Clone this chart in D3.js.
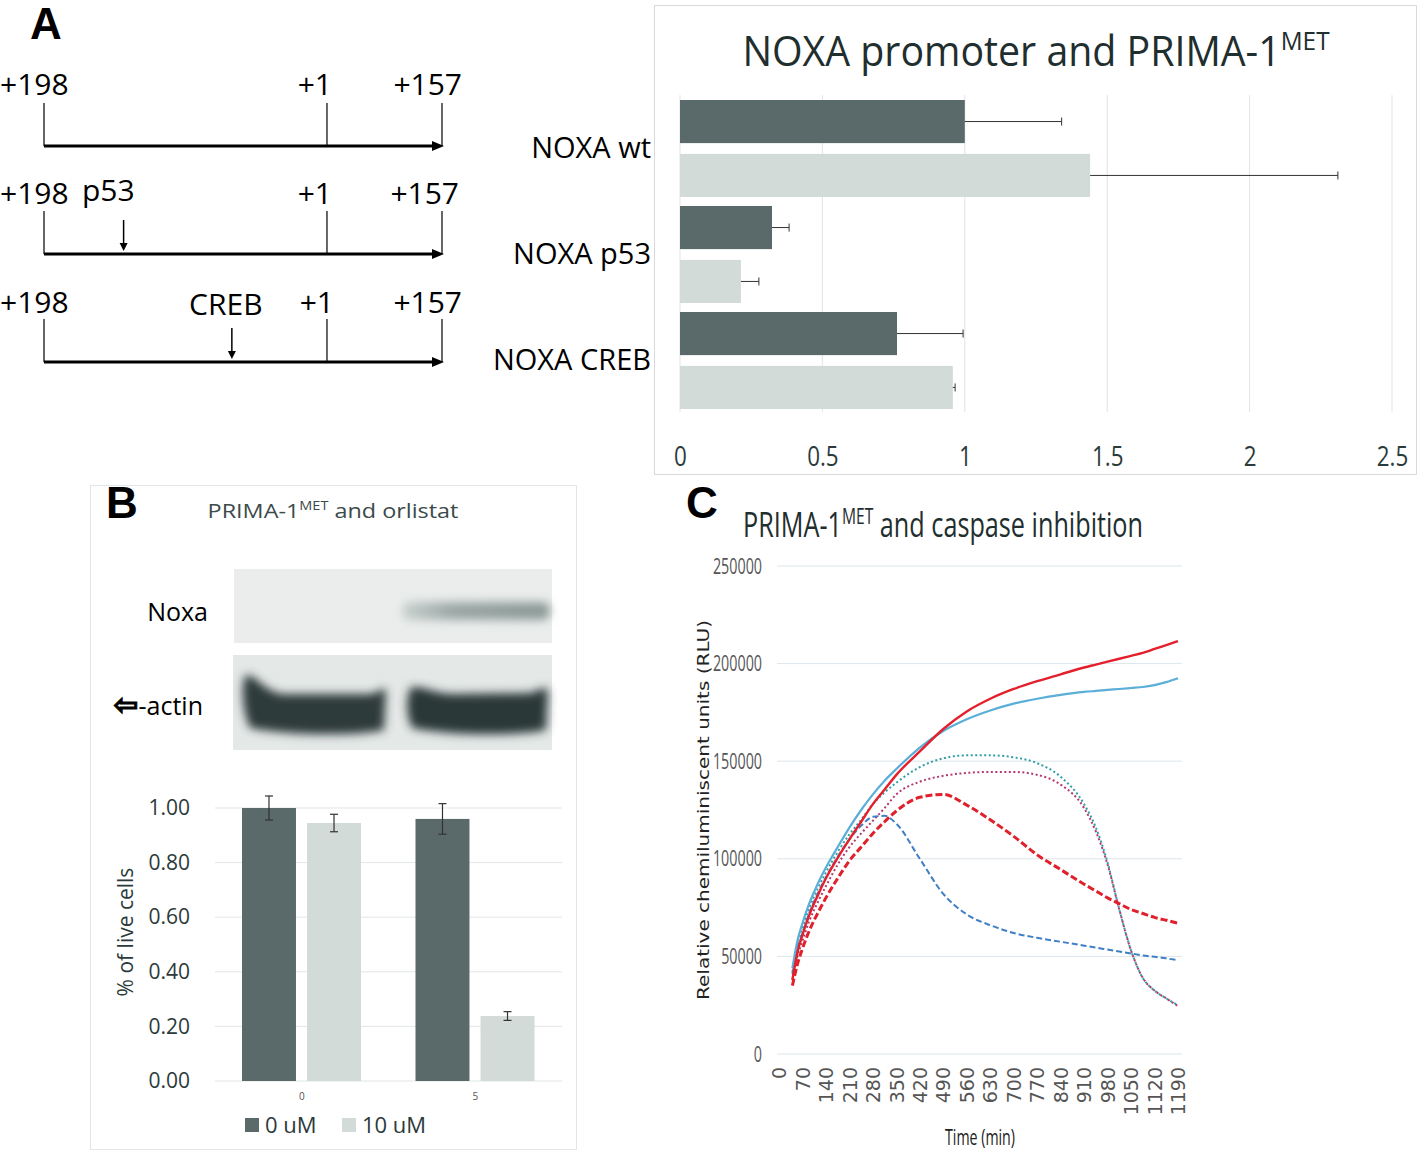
<!DOCTYPE html>
<html>
<head>
<meta charset="utf-8">
<script src="https://cdn.jsdelivr.net/npm/d3@7"></script>
<style>
  body { margin: 0; background: #fff; }
  svg { display: block; }
</style>
</head>
<body>
<script>
// ---- data ----
// panel A, promoter constructs (relative positions along the schematic)
var constructs = ["wt", "p53", "CREB"];
var constructSite = [null, 0.2, 0.472];   // mutated site position
var tssPos = 0.711;                         // +1 position

// panel A, luciferase bars
var noxaCats = ["NOXA wt", "NOXA p53", "NOXA CREB"];
var noxaCtrl = [1.0, 0.323, 0.762];
var noxaCtrlErr = [0.34, 0.06, 0.232];
var noxaPrima = [1.44, 0.214, 0.958];
var noxaPrimaErr = [0.87, 0.063, 0.008];
var noxaTicks = [0, 0.5, 1, 1.5, 2, 2.5];

// panel B, viability bars
var orlCats = ["0", "5"];
var orl0uM = [1.00, 0.96];
var orl0uMErr = [0.044, 0.056];
var orl10uM = [0.945, 0.238];
var orl10uMErr = [0.032, 0.016];
var orlTicks = [0, 0.2, 0.4, 0.6, 0.8, 1.0];
var orlSeries = ["0 uM", "10 uM"];

// panel C, caspase-glo kinetics
var times      = [40, 55, 70, 90, 115, 140, 175, 210, 245, 280, 315, 350, 420, 490, 560, 630, 700, 770, 840, 910, 945, 980, 1015, 1050, 1085, 1120, 1155, 1190];
var redSolid   = [38000, 52000, 61000, 71000, 81000, 90000, 100500, 110000, 119000, 128000, 135500, 143000, 155000, 166500, 175500, 182000, 187000, 191000, 194500, 198000, 199500, 201000, 202500, 204000, 205500, 207500, 209500, 211500];
var blueSolid  = [44000, 58000, 67000, 77000, 87000, 95500, 106000, 116000, 125000, 133000, 140000, 146000, 157000, 165500, 171500, 176000, 179500, 182000, 184000, 185500, 186000, 186500, 187000, 187500, 188000, 189000, 190500, 192500];
var blueDashed = [41000, 54000, 62000, 72000, 82000, 90500, 101000, 110000, 117000, 121500, 122000, 118000, 100000, 82000, 71500, 66000, 62000, 59500, 57500, 55500, 54500, 53500, 52500, 51500, 50500, 49800, 49000, 48000];
var redDashed  = [35000, 46000, 54000, 63000, 72000, 80000, 90000, 99000, 106000, 113000, 119000, 124500, 131500, 133000, 127500, 120000, 111500, 102000, 94500, 87000, 83500, 80000, 77000, 74000, 72000, 70000, 68500, 67000];
var tealDotted = [42000, 56000, 64500, 74500, 84500, 93000, 103500, 112500, 120000, 128000, 134000, 139000, 147000, 151500, 153000, 153000, 152000, 149000, 142000, 128000, 116000, 98000, 74000, 53000, 39000, 32500, 28500, 25000];
var pinkDotted = [38000, 50000, 58000, 68000, 77500, 86000, 97000, 106000, 113000, 119500, 126000, 133000, 139500, 142500, 144000, 144500, 144500, 143000, 138000, 126000, 114000, 97000, 74000, 53000, 39000, 32500, 28500, 24500];
var timeTicks = d3.range(0, 1191, 70);
var rluTicks = [0, 50000, 100000, 150000, 200000, 250000];

var dark = "#5a6a6a", light = "#d3dbd9";
var open = "'Open Sans', sans-serif";

var svg = d3.select("body").append("svg")
    .attr("width", 1418)
    .attr("height", 1152);

var defs = svg.append("defs");
defs.append("filter").attr("id", "blur4").attr("x", "-30%").attr("y", "-100%").attr("width", "160%").attr("height", "300%")
    .append("feGaussianBlur").attr("stdDeviation", 5);
defs.append("filter").attr("id", "blur6").attr("x", "-20%").attr("y", "-50%").attr("width", "140%").attr("height", "200%")
    .append("feGaussianBlur").attr("stdDeviation", 5);
var bandGrad = defs.append("linearGradient").attr("id", "noxaBand");
bandGrad.append("stop").attr("offset", "0%").attr("stop-color", "#c9d1cf");
bandGrad.append("stop").attr("offset", "35%").attr("stop-color", "#9ba7a5");
bandGrad.append("stop").attr("offset", "100%").attr("stop-color", "#8c9997");

function panelLetter(x, y, t) {
  svg.append("text").attr("x", x).attr("y", y).text(t)
     .attr("font-family", "'Liberation Sans', Arial, sans-serif")
     .attr("font-weight", "bold").attr("font-size", 44).attr("fill", "#000");
}

// squeeze / stretch a text horizontally so it covers `width` pixels
function fitWidth(text, width) {
  var w = text.node().getBBox().width;
  text.attr("transform", "scale(" + (width / w) + ",1)");
}

function supTitle(g, cx, y, pre, sup, post, size, color, width) {
  var holder = g.append("g").attr("transform", "translate(" + cx + "," + y + ")");
  var t = holder.append("text").attr("x", 0).attr("y", 0)
      .attr("text-anchor", "middle")
      .attr("font-family", open).attr("font-size", size).attr("fill", color);
  t.append("tspan").text(pre);
  t.append("tspan").text(sup).attr("font-size", size * 0.62).attr("dy", -size * 0.38);
  t.append("tspan").text(post).attr("dy", size * 0.38);
  fitWidth(t, width);
  return t;
}

// ================= Panel A: constructs =================
panelLetter(30, 39, "A");
var gA = svg.append("g");
var sx = d3.scaleLinear().domain([0, 1]).range([44, 442]);
var rowY = d3.scaleBand().domain(constructs).range([38, 362]).paddingInner(0);

constructs.forEach(function(c, i) {
  var base = rowY(c) + rowY.bandwidth();   // arrow line y
  var g = gA.append("g");
  g.append("line").attr("x1", sx(0)).attr("x2", sx(1) - 8).attr("y1", base).attr("y2", base)
    .attr("stroke", "#000").attr("stroke-width", 3);
  g.append("path").attr("d", "M" + (sx(1) + 2) + "," + base + "l-12,-5l0,10z").attr("fill", "#000");
  [0, tssPos, 1].forEach(function(p) {
    g.append("line").attr("x1", sx(p)).attr("x2", sx(p)).attr("y1", base - 43).attr("y2", base)
      .attr("stroke", "#000").attr("stroke-width", 1.2);
  });
  var ty = base - 51 + i;
  var lab = g.append("g").attr("font-family", open).attr("font-size", 30).attr("fill", "#000");
  lab.append("text").attr("x", 0).attr("y", ty).text("+198");
  lab.append("text").attr("x", sx(tssPos) + (i === 2 ? 7 : 5)).attr("y", ty).attr("text-anchor", "end").text("+1");
  lab.append("text").attr("x", sx(1) + (i === 1 ? 17 : 20)).attr("y", ty).attr("text-anchor", "end").text("+157");
  if (constructSite[i] !== null) {
    var s = sx(constructSite[i]);
    g.append("line").attr("x1", s).attr("x2", s).attr("y1", base - 34).attr("y2", base - 7)
      .attr("stroke", "#000").attr("stroke-width", 1.5);
    g.append("path").attr("d", "M" + s + "," + (base - 3) + "l-4,-8l8,0z").attr("fill", "#000");
    lab.append("text").attr("x", i === 1 ? 82 : s - 6).attr("y", ty - (i === 1 ? 3 : -2))
      .attr("text-anchor", i === 1 ? "start" : "middle").text(c);
  }
});

// ================= Panel A: bar chart =================
var gAB = svg.append("g");
gAB.append("rect").attr("x", 654.5).attr("y", 5.5).attr("width", 762).attr("height", 469)
   .attr("fill", "#fff").attr("stroke", "#d9d9d9");
supTitle(gAB, 1036, 66, "NOXA promoter and PRIMA-1", "MET", "", 42, "#1f2e2e", 588);

var xA = d3.scaleLinear().domain([0, 2.5]).range([680, 1392]);
var yA = d3.scaleBand().domain(noxaCats).range([94.5, 412.5]);
var ySub = d3.scaleBand().domain(["ctrl", "prima"]).range([5.5, 102.5]).paddingInner(0.2);

gAB.append("g").selectAll("line").data(noxaTicks).enter().append("line")
   .attr("x1", function(d) { return xA(d); }).attr("x2", function(d) { return xA(d); })
   .attr("y1", 95).attr("y2", 412).attr("stroke", "#e3e3e3").attr("stroke-width", 1);

var axA = gAB.append("g").attr("transform", "translate(0,412)")
   .call(d3.axisBottom(xA).tickValues(noxaTicks).tickSize(0).tickPadding(34).tickFormat(d3.format("")));
axA.select(".domain").remove();
axA.selectAll("text").attr("font-family", open).attr("font-size", 28).attr("fill", "#2b3a3a")
   .attr("transform", "scale(0.8,1)");

var barsA = [];
noxaCats.forEach(function(c, i) {
  barsA.push({ cat: c, s: "ctrl", v: noxaCtrl[i], e: noxaCtrlErr[i] });
  barsA.push({ cat: c, s: "prima", v: noxaPrima[i], e: noxaPrimaErr[i] });
});
gAB.append("g").selectAll("rect").data(barsA).enter().append("rect")
   .attr("x", xA(0)).attr("y", function(d) { return yA(d.cat) + ySub(d.s); })
   .attr("width", function(d) { return xA(d.v) - xA(0); })
   .attr("height", ySub.bandwidth())
   .attr("fill", function(d) { return d.s === "ctrl" ? dark : light; });
var errA = gAB.append("g").attr("stroke", "#333").attr("stroke-width", 1);
barsA.forEach(function(d) {
  var cy = yA(d.cat) + ySub(d.s) + ySub.bandwidth() / 2;
  errA.append("line").attr("x1", xA(d.v)).attr("x2", xA(d.v + d.e)).attr("y1", cy).attr("y2", cy);
  errA.append("line").attr("x1", xA(d.v + d.e)).attr("x2", xA(d.v + d.e)).attr("y1", cy - 4).attr("y2", cy + 4);
});
gAB.append("g").selectAll("text").data(noxaCats).enter().append("text")
   .attr("x", 651).attr("y", function(d) { return yA(d) + yA.bandwidth() / 2 + 10; })
   .attr("text-anchor", "end").attr("font-family", open).attr("font-size", 29).attr("fill", "#000")
   .text(function(d) { return d; });

// ================= Panel B =================
var gB = svg.append("g");
gB.append("rect").attr("x", 90.5).attr("y", 485.5).attr("width", 486).attr("height", 664)
  .attr("fill", "#fff").attr("stroke", "#e3e6e6");
panelLetter(106, 518, "B");
supTitle(gB, 333, 518, "PRIMA-1", "MET", " and orlistat", 20, "#3b4a4a", 251);

// western blot strips
gB.append("rect").attr("x", 234).attr("y", 569).attr("width", 318).attr("height", 74).attr("fill", "#eaedec");
gB.append("rect").attr("x", 402).attr("y", 602).attr("width", 148).attr("height", 18).attr("rx", 8)
  .attr("fill", "url(#noxaBand)").attr("filter", "url(#blur4)");
gB.append("rect").attr("x", 233).attr("y", 655).attr("width", 319).attr("height", 95).attr("fill", "#e4e8e7");
gB.append("path").attr("d", "M245,676 C252,670 262,690 282,694 L370,694 C380,692 384,686 386,690 L384,730 C360,736 290,736 250,728 C244,715 240,690 245,676Z")
  .attr("fill", "#2d3b3b").attr("filter", "url(#blur6)");
gB.append("path").attr("d", "M410,688 C420,684 430,692 450,694 L530,693 C540,690 545,686 548,690 L546,730 C520,736 450,736 412,728 C406,715 406,700 410,688Z")
  .attr("fill", "#2b3939").attr("filter", "url(#blur6)");
gB.append("text").attr("x", 208).attr("y", 621).attr("text-anchor", "end")
  .attr("font-family", open).attr("font-size", 25).attr("fill", "#000").text("Noxa");
var actin = gB.append("text").attr("x", 203).attr("y", 715).attr("text-anchor", "end")
  .attr("font-family", open).attr("font-size", 25).attr("fill", "#000");
actin.append("tspan").attr("font-family", "'DejaVu Sans', sans-serif").attr("font-weight", "bold")
  .attr("stroke", "#000").attr("stroke-width", 1).attr("font-size", 30).text("\u21e6");
actin.append("tspan").text("-actin");

// bar chart
var xB = d3.scaleBand().domain(orlCats).range([215, 562]);
var xBSub = d3.scaleBand().domain(orlSeries).range([27, 146]).paddingInner(0.17);
var yB = d3.scaleLinear().domain([0, 1]).range([1081, 808]);

gB.append("g").selectAll("line").data(orlTicks).enter().append("line")
  .attr("x1", 215).attr("x2", 562)
  .attr("y1", function(d) { return yB(d); }).attr("y2", function(d) { return yB(d); })
  .attr("stroke", "#e3e6e6");
var ayB = gB.append("g").attr("transform", "translate(190,0)")
  .call(d3.axisLeft(yB).tickValues(orlTicks).tickSize(0).tickPadding(0).tickFormat(d3.format(".2f")));
ayB.select(".domain").remove();
ayB.selectAll("text").attr("font-family", open).attr("font-size", 21).attr("fill", "#2b3a3a");

var barsB = [];
orlCats.forEach(function(c, i) {
  barsB.push({ cat: c, s: orlSeries[0], v: orl0uM[i], e: orl0uMErr[i] });
  barsB.push({ cat: c, s: orlSeries[1], v: orl10uM[i], e: orl10uMErr[i] });
});
gB.append("g").selectAll("rect").data(barsB).enter().append("rect")
  .attr("x", function(d) { return xB(d.cat) + xBSub(d.s); })
  .attr("y", function(d) { return yB(d.v); })
  .attr("width", xBSub.bandwidth())
  .attr("height", function(d) { return yB(0) - yB(d.v); })
  .attr("fill", function(d) { return d.s === orlSeries[0] ? dark : light; });
var errB = gB.append("g").attr("stroke", "#333").attr("stroke-width", 1.2);
barsB.forEach(function(d) {
  var cx = xB(d.cat) + xBSub(d.s) + xBSub.bandwidth() / 2;
  errB.append("line").attr("x1", cx).attr("x2", cx).attr("y1", yB(d.v + d.e)).attr("y2", yB(d.v - d.e));
  errB.append("line").attr("x1", cx - 4).attr("x2", cx + 4).attr("y1", yB(d.v + d.e)).attr("y2", yB(d.v + d.e));
  errB.append("line").attr("x1", cx - 4).attr("x2", cx + 4).attr("y1", yB(d.v - d.e)).attr("y2", yB(d.v - d.e));
});
var axB = gB.append("g").attr("transform", "translate(0,1081)")
  .call(d3.axisBottom(xB).tickSize(0).tickPadding(12));
axB.select(".domain").remove();
axB.selectAll("text").attr("font-family", open).attr("font-size", 10).attr("fill", "#555");

gB.append("text").attr("transform", "translate(133,932) rotate(-90)").attr("text-anchor", "middle")
  .attr("font-family", open).attr("font-size", 21).attr("fill", "#2b3a3a").text("% of live cells");

var legB = gB.append("g");
var legX = d3.scaleOrdinal().domain(orlSeries).range([245, 342]);
orlSeries.forEach(function(s, i) {
  legB.append("rect").attr("x", legX(s)).attr("y", 1118).attr("width", 14).attr("height", 14)
    .attr("fill", i === 0 ? dark : light);
  legB.append("text").attr("x", legX(s) + 20).attr("y", 1133).attr("font-family", open)
    .attr("font-size", 22).attr("fill", "#2b3a3a").text(s);
});

// ================= Panel C =================
var gC = svg.append("g");
panelLetter(686, 518, "C");
supTitle(gC, 943, 537, "PRIMA-1", "MET", " and caspase inhibition", 35, "#1f2e2e", 400);

var xC = d3.scaleLinear().domain([0, 1190]).range([779, 1178]);
var yC = d3.scaleLinear().domain([0, 250000]).range([1054, 566]);

gC.append("g").selectAll("line").data(rluTicks).enter().append("line")
  .attr("x1", 777).attr("x2", 1182)
  .attr("y1", function(d) { return yC(d); }).attr("y2", function(d) { return yC(d); })
  .attr("stroke", "#dce6ea");
var ayC = gC.append("g").attr("transform", "translate(762,0)")
  .call(d3.axisLeft(yC).tickValues(rluTicks).tickSize(0).tickPadding(0).tickFormat(d3.format("d")));
ayC.select(".domain").remove();
ayC.selectAll("text").attr("font-family", open).attr("font-size", 22).attr("fill", "#555")
  .attr("transform", "scale(0.65,1)");

var axC = gC.append("g").attr("transform", "translate(0,1067)")
  .call(d3.axisBottom(xC).tickValues(timeTicks).tickSize(0).tickPadding(0).tickFormat(d3.format("d")));
axC.select(".domain").remove();
axC.selectAll("text").attr("font-family", "'DejaVu Sans', sans-serif").attr("font-size", 19).attr("fill", "#555")
  .attr("text-anchor", "end").attr("dy", "0.35em").attr("transform", "rotate(-90)");

var yTitle = gC.append("g").attr("transform", "translate(709,810) rotate(-90)")
  .append("text").attr("text-anchor", "middle")
  .attr("font-family", "'DejaVu Sans', sans-serif").attr("font-size", 16).attr("fill", "#222")
  .text("Relative chemiluminiscent units (RLU)");
fitWidth(yTitle, 380);
var xTitle = gC.append("g").attr("transform", "translate(980,1145)")
  .append("text").attr("text-anchor", "middle")
  .attr("font-family", open).attr("font-size", 21).attr("fill", "#222").text("Time (min)");
fitWidth(xTitle, 70);

var series = [
  { v: tealDotted, c: "#2f9ea6", w: 2, dash: "2,2.5" },
  { v: pinkDotted, c: "#b23a6e", w: 2, dash: "2,2.5" },
  { v: blueDashed, c: "#3f7fc6", w: 2, dash: "6,3" },
  { v: redDashed,  c: "#e0202a", w: 3, dash: "7,3" },
  { v: blueSolid,  c: "#5aaed8", w: 2.2, dash: null },
  { v: redSolid,   c: "#e3202b", w: 2.4, dash: null }
];
var line = d3.line()
  .x(function(d, i) { return xC(times[i]); })
  .y(function(d) { return yC(d); })
  .curve(d3.curveMonotoneX);
gC.append("g").selectAll("path").data(series).enter().append("path")
  .attr("d", function(d) { return line(d.v); })
  .attr("fill", "none")
  .attr("stroke", function(d) { return d.c; })
  .attr("stroke-width", function(d) { return d.w; })
  .attr("stroke-dasharray", function(d) { return d.dash; });
</script>
</body>
</html>
